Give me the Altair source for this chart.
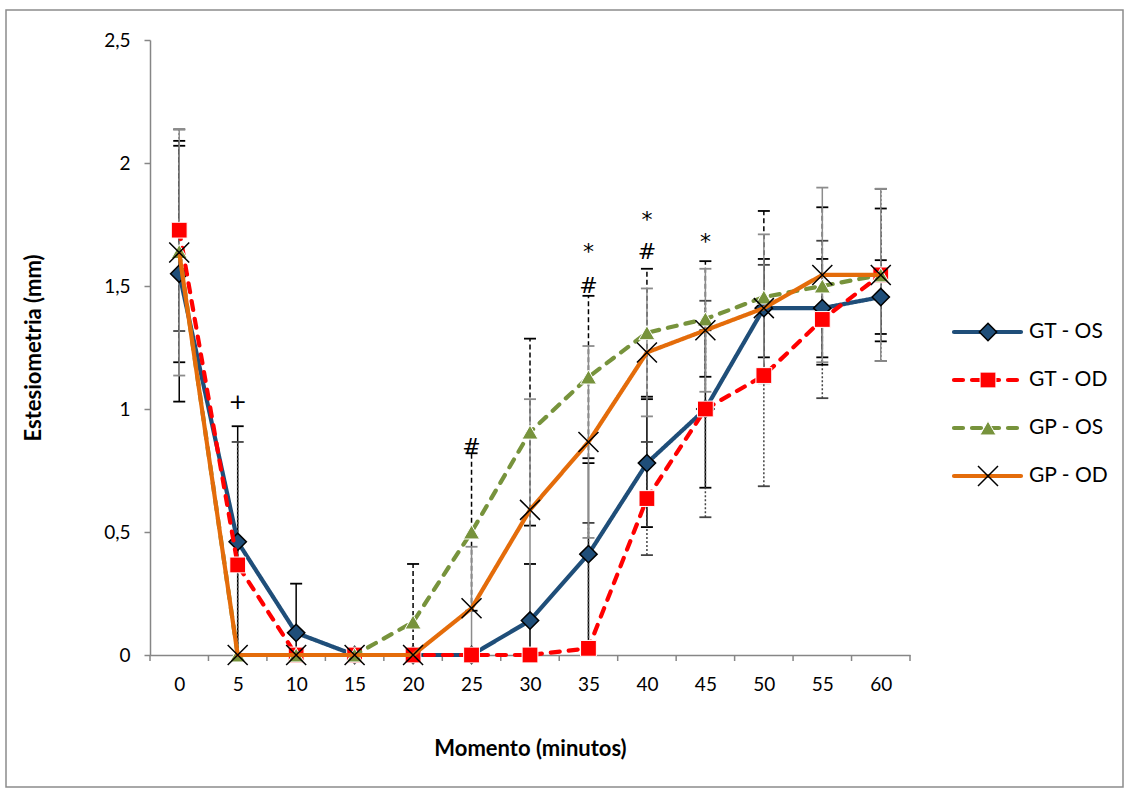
import altair as alt
import pandas as pd

minutes = [0, 5, 10, 15, 20, 25, 30, 35, 40, 45, 50, 55, 60]
series_names = ["GT - OS", "GT - OD", "GP - OS", "GP - OD"]

gt_os = [1.55, 0.46, 0.09, 0, 0, 0, 0.14, 0.41, 0.78, 1.00, 1.41, 1.41, 1.455]
gt_os_sd = [0.52, 0.47, 0.20, 0, 0, 0, 0.23, 0.37, 0.26, 0.32, 0.20, 0.20, 0.15]
gt_od = [1.727, 0.366, 0, 0, 0, 0, 0, 0.027, 0.636, 1.0, 1.136, 1.364, 1.545]
gt_od_sd = [0.41, 0.50, 0, 0, 0, 0, 0, 0.51, 0.23, 0.44, 0.45, 0.32, 0.35]
gp_os = [1.64, 0, 0, 0, 0.134, 0.50, 0.906, 1.13, 1.31, 1.366, 1.455, 1.50, 1.545]
gp_os_sd = [0.45, 0, 0, 0, 0.236, 0.32, 0.38, 0.33, 0.26, 0.235, 0.35, 0.32, 0.27]
gp_od = [1.636, 0, 0, 0, 0, 0.19, 0.59, 0.866, 1.23, 1.32, 1.41, 1.545, 1.545]
gp_od_sd = [0.50, 0, 0, 0, 0, 0.25, 0.45, 0.39, 0.26, 0.25, 0.30, 0.355, 0.35]

ann_x = [5, 25, 35, 35, 40, 40, 45]
ann_text = ["+", "#", "#", "*", "#", "*", "*"]
ann_y = [1.03, 0.845, 1.50, 1.64, 1.64, 1.77, 1.68]

FONT = "Lato"
W, H = 760, 615

styles = {
    "GT - OS": dict(color="#1F4E79", dash=[1, 0], shape="diamond", fill="#1F4E79",
                    mstroke="black", msw=1.5, size=300, filled=True,
                    ecolor="black", edash=[1, 0]),
    "GT - OD": dict(color="#FF0000", dash=[9, 9], shape="square", fill="#FF0000",
                    mstroke="white", msw=1, size=250, filled=True,
                    ecolor="#444444", edash=[2, 2]),
    "GP - OS": dict(color="#77933C", dash=[9, 9], shape="triangle-up", fill="#77933C",
                    mstroke="white", msw=1, size=260, filled=True,
                    ecolor="black", edash=[5, 3]),
    "GP - OD": dict(color="#E46C0A", dash=[1, 0], shape="M-1,-1L1,1M-1,1L1,-1", fill="black",
                    mstroke="black", msw=1.5, size=400, filled=False,
                    ecolor="#8C8C8C", edash=[1, 0]),
}

vals = {"GT - OS": (gt_os, gt_os_sd), "GT - OD": (gt_od, gt_od_sd),
        "GP - OS": (gp_os, gp_os_sd), "GP - OD": (gp_od, gp_od_sd)}

rows = []
for name in series_names:
    m_, s_ = vals[name]
    for mi, v, s in zip(minutes, m_, s_):
        rows.append(dict(series=name, minute=mi, mean=v, sd=s, lo=v - s, hi=v + s))
df = pd.DataFrame(rows)

x_scale = alt.Scale(domain=[-2.5, 62.5], nice=False, zero=False)
y_scale = alt.Scale(domain=[0, 2.5], nice=False)
x_axis = alt.Axis(values=minutes, ticks=False, tickSize=0, labelPadding=20, grid=False,
                  title="Momento (minutos)", titleY=93, titleBaseline="middle",
                  domainColor="#868686", domainWidth=1.5,
                  labelFont=FONT, labelFontSize=19, labelColor="black",
                  titleFont=FONT, titleFontSize=22, titleFontWeight="bold", titleColor="black")
y_axis = alt.Axis(values=[0, 0.5, 1, 1.5, 2, 2.5], tickSize=6, labelPadding=14, grid=False,
                  labelExpr="replace(toString(datum.value), '.', ',')",
                  title="Estesiometria (mm)", titleX=-117, titleY=307.5,
                  titleAngle=-90, titleBaseline="middle",
                  domainColor="#868686", domainWidth=1.5, tickColor="#868686", tickWidth=1.5,
                  labelFont=FONT, labelFontSize=19, labelColor="black",
                  titleFont=FONT, titleFontSize=22, titleFontWeight="bold", titleColor="black")


def X(field):
    return alt.X(field, type="quantitative", scale=x_scale, axis=x_axis, title="Momento (minutos)")


def Y(field):
    return alt.Y(field, type="quantitative", scale=y_scale, axis=y_axis, title="Estesiometria (mm)")


layers = []

# outer border
border = alt.Chart(pd.DataFrame({"a": [1]})).mark_rect(
    fillOpacity=0, stroke="#8C8C8C", strokeWidth=1.5
).encode(x=alt.value(-144), x2=alt.value(973), y=alt.value(-30), y2=alt.value(747))
layers.append(border)

# x tick marks at category boundaries
bounds = pd.DataFrame({"b": [m - 2.5 for m in minutes] + [minutes[-1] + 2.5]})
xticks = alt.Chart(bounds).mark_rule(color="#868686", strokeWidth=1.5).encode(
    x=X("b"), y=alt.value(H), y2=alt.value(H + 6))
layers.append(xticks)

# error bars
for name in series_names:
    st = styles[name]
    d = df[(df.series == name) & (df.sd > 0)]
    bar = alt.Chart(d).mark_rule(color=st["ecolor"], strokeWidth=1.5, strokeDash=st["edash"],
                                 clip=True).encode(x=X("minute"), y=Y("lo"), y2="hi")
    capd = pd.concat([d.assign(end=d.lo), d.assign(end=d.hi)])
    caps = alt.Chart(capd).mark_tick(orient="horizontal", size=12, thickness=1.8,
                                     color=st["ecolor"], clip=True, opacity=1).encode(
        x=X("minute"), y=Y("end"))
    layers += [bar, caps]

# lines and markers
for name in series_names:
    st = styles[name]
    d = df[df.series == name]
    line = alt.Chart(d).mark_line(color=st["color"], strokeWidth=4.2, strokeDash=st["dash"],
                                  strokeCap="round" if st["dash"] != [1, 0] else "butt").encode(
        x=X("minute"), y=Y("mean"))
    if st["filled"]:
        pt = alt.Chart(d).mark_point(shape=st["shape"], filled=True, fill=st["fill"],
                                     stroke=st["mstroke"], strokeWidth=st["msw"], size=st["size"],
                                     opacity=1).encode(x=X("minute"), y=Y("mean"))
    else:
        pt = alt.Chart(d).mark_point(shape=st["shape"], filled=False,
                                     stroke=st["mstroke"], strokeWidth=st["msw"], size=st["size"],
                                     opacity=1).encode(x=X("minute"), y=Y("mean"))
    layers += [line, pt]

# annotations
ann = pd.DataFrame({"minute": ann_x, "y": ann_y, "t": ann_text})
annot = alt.Chart(ann).mark_text(font="DejaVu Sans", fontSize=22, color="black",
                                 baseline="middle").encode(
    x=X("minute"), y=Y("y"), text="t:N")
layers.append(annot)

# legend
for i, name in enumerate(series_names):
    st = styles[name]
    ly = 292 + 48 * i
    one = pd.DataFrame({"s": [name]})
    lr = alt.Chart(one).mark_rule(color=st["color"], strokeWidth=4.2, strokeDash=st["dash"],
                                  strokeCap="round").encode(
        x=alt.value(804), x2=alt.value(871), y=alt.value(ly))
    if st["filled"]:
        lp = alt.Chart(one).mark_point(shape=st["shape"], filled=True, fill=st["fill"],
                                       stroke=st["mstroke"], strokeWidth=st["msw"],
                                       size=st["size"], opacity=1).encode(
            x=alt.value(838), y=alt.value(ly))
    else:
        lp = alt.Chart(one).mark_point(shape=st["shape"], filled=False,
                                       stroke=st["mstroke"], strokeWidth=st["msw"],
                                       size=st["size"], opacity=1).encode(
            x=alt.value(838), y=alt.value(ly))
    lt = alt.Chart(one).mark_text(font=FONT, fontSize=21, color="black", align="left",
                                  baseline="middle").encode(
        x=alt.value(879), y=alt.value(ly), text="s:N")
    layers += [lr, lp, lt]

chart = alt.layer(*layers).properties(
    width=W, height=H,
    background="white",
    padding={"left": 150, "top": 40, "right": 1128 - 150 - W, "bottom": 791 - 40 - H},
    autosize=alt.AutoSizeParams(type="none"),
).configure_view(stroke=None)

chart.save("out.html", embed_options={"renderer": "svg", "actions": False})
